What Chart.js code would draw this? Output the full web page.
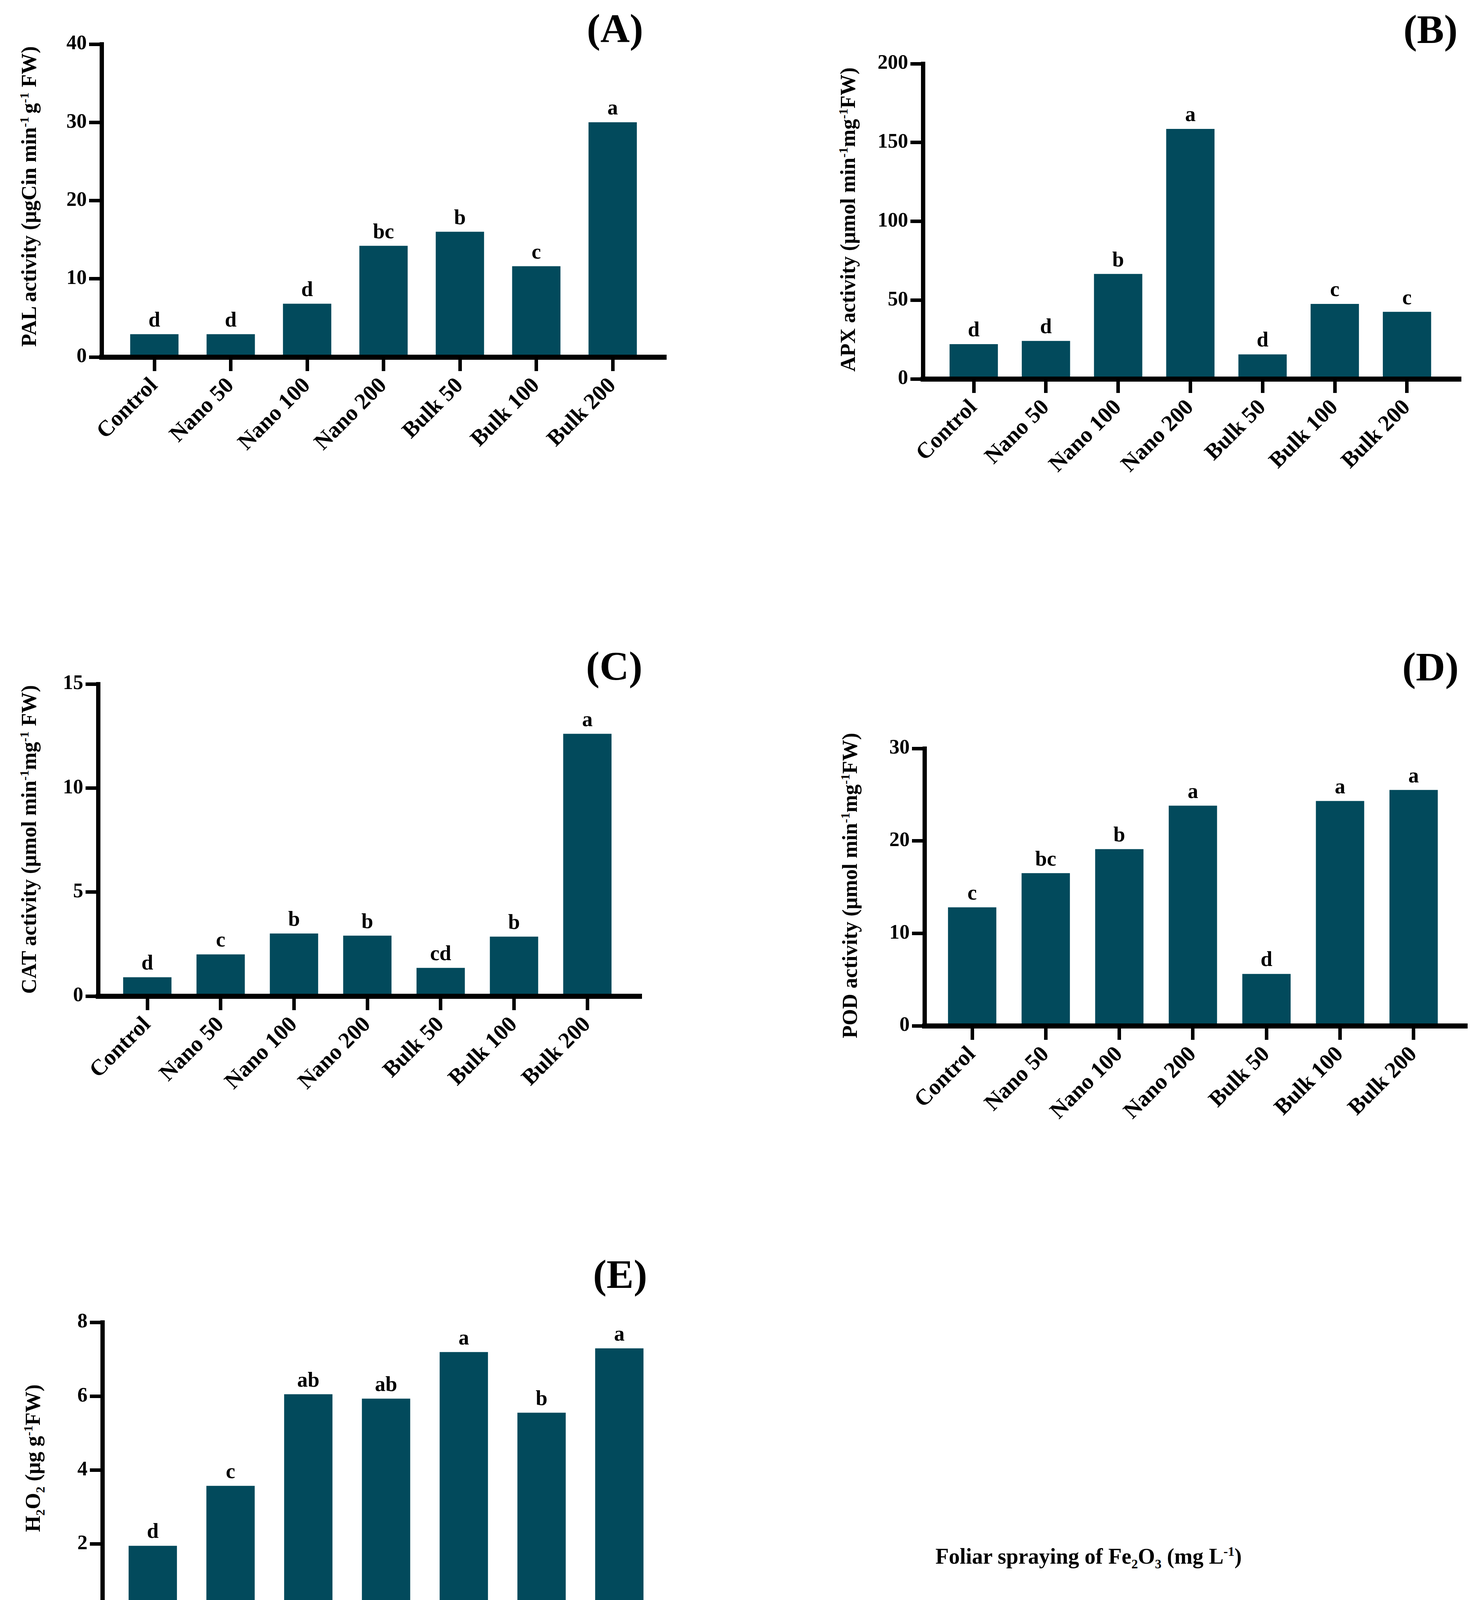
<!DOCTYPE html>
<html>
<head>
<meta charset="utf-8">
<script src="https://cdn.jsdelivr.net/npm/chart.js@4.4.1/dist/chart.umd.min.js"></script>
<style>
html, body { margin: 0; padding: 0; background: #fff; }
body { width: 3780px; height: 4539px; position: relative; overflow: hidden;
       font-family: "Liberation Serif", "Times New Roman", serif; font-weight: bold; color: #000; }
canvas { position: absolute; }
.tag { position: absolute; font-size: 104px; line-height: 1; white-space: nowrap; transform: translate(-50%, -50%); }
.ytitle { position: absolute; font-size: 54px; line-height: 1; white-space: nowrap; transform: translate(-50%, -50%) rotate(-90deg); }
.xtitle { position: absolute; font-size: 56px; line-height: 1; white-space: nowrap; transform: translate(-50%, -50%); }
sup, sub { font-size: 0.6em; line-height: 0; }
</style>
</head>
<body>

<canvas id="cA"></canvas>
<canvas id="cB"></canvas>
<canvas id="cC"></canvas>
<canvas id="cD"></canvas>
<canvas id="cE"></canvas>

<div class="tag" style="left:1574px;top:73px">(A)</div>
<div class="tag" style="left:3661px;top:75px">(B)</div>
<div class="tag" style="left:1572px;top:1705px">(C)</div>
<div class="tag" style="left:3661px;top:1707px">(D)</div>
<div class="tag" style="left:1587px;top:3262px">(E)</div>

<div class="ytitle" style="left:74px;top:503px">PAL activity (μgCin min<sup>-1 </sup>g<sup>-1</sup> FW)</div>
<div class="ytitle" style="left:2170px;top:562px">APX activity (μmol min<sup>-1</sup>mg<sup>-1</sup>FW)</div>
<div class="ytitle" style="left:74px;top:2149px">CAT activity (μmol min<sup>-1</sup>mg<sup>-1</sup> FW)</div>
<div class="ytitle" style="left:2175px;top:2267px">POD activity (μmol min<sup>-1</sup>mg<sup>-1</sup>FW)</div>
<div class="ytitle" style="left:84px;top:3733px">H<sub>2</sub>O<sub>2</sub> (μg g<sup>-1</sup>FW)</div>

<div class="xtitle" style="left:2786px;top:3984px">Foliar spraying of Fe<sub>2</sub>O<sub>3</sub> (mg L<sup>-1</sup>)</div>
<div class="xtitle" style="left:885px;top:4476px">Foliar spraying of Fe<sub>2</sub>O<sub>3</sub> (mg L<sup>-1</sup>)</div>

<script>
/* ─── Data ──────────────────────────────────────────────────────────────── */

const categories = ['Control', 'Nano 50', 'Nano 100', 'Nano 200', 'Bulk 50', 'Bulk 100', 'Bulk 200'];

const palVals    = [2.9, 2.9, 6.8, 14.2, 16.0, 11.6, 30.0];
const palLetters = ['d', 'd', 'd', 'bc', 'b', 'c', 'a'];
const palTicks   = [0, 10, 20, 30, 40];

const apxVals    = [22, 24, 66.5, 158.5, 15.5, 47.5, 42.5];
const apxLetters = ['d', 'd', 'b', 'a', 'd', 'c', 'c'];
const apxTicks   = [0, 50, 100, 150, 200];

const catVals    = [0.9, 2.0, 3.0, 2.9, 1.35, 2.85, 12.6];
const catLetters = ['d', 'c', 'b', 'b', 'cd', 'b', 'a'];
const catTicks   = [0, 5, 10, 15];

const podVals    = [12.8, 16.5, 19.1, 23.8, 5.6, 24.3, 25.5];
const podLetters = ['c', 'bc', 'b', 'a', 'd', 'a', 'a'];
const podTicks   = [0, 10, 20, 30];

const h2o2Vals    = [1.95, 3.57, 6.05, 5.93, 7.19, 5.55, 7.29];
const h2o2Letters = ['d', 'c', 'ab', 'ab', 'a', 'b', 'a'];
const h2o2Ticks   = [0, 2, 4, 6, 8];

/* ─── Style ─────────────────────────────────────────────────────────────── */

const barColor = '#024a5c';
const serif    = '"Liberation Serif", "Times New Roman", serif';
const yW = 130, padTop = 50, padR = 30, xH = 300;

// letters above each bar
const letterPlugin = {
    id: 'barLetters',
    afterDatasetsDraw(chart) {
        const ds = chart.data.datasets[0];
        const ctx = chart.ctx;
        ctx.save();
        ctx.fillStyle = '#000';
        ctx.font = 'bold 54px ' + serif;
        ctx.textAlign = 'center';
        ctx.textBaseline = 'alphabetic';
        chart.getDatasetMeta(0).data.forEach((bar, i) => {
            ctx.fillText(ds.letters[i], bar.x, bar.y - 20);
        });
        ctx.restore();
    }
};

function mkBar(canvasId, vals, letters, yTicks, lay) {
    const cv = document.getElementById(canvasId);
    const w = yW + (lay.rightX - lay.axisX) + padR;
    const h = padTop + (lay.zeroY - lay.topY) + xH;
    cv.width = w; cv.height = h;
    cv.style.width = w + 'px'; cv.style.height = h + 'px';
    cv.style.left = (lay.axisX - yW) + 'px';
    cv.style.top = (lay.topY - padTop) + 'px';

    return new Chart(cv, {
        type: 'bar',
        data: {
            labels: categories,
            datasets: [{
                data: vals.map((v, i) => ({ x: i, y: v })),
                letters,
                backgroundColor: barColor,
                borderWidth: 0,
                barThickness: 123
            }]
        },
        options: {
            responsive: false,
            animation: false,
            devicePixelRatio: 1,
            layout: { padding: { top: padTop, right: padR, left: 0, bottom: 0 } },
            plugins: { legend: { display: false }, tooltip: { enabled: false } },
            scales: {
                x: {
                    type: 'linear',
                    offset: false,
                    min: -(lay.c0 - lay.axisX) / lay.step,
                    max: (lay.rightX - lay.c0) / lay.step,
                    afterBuildTicks: s => { s.ticks = categories.map((_, i) => ({ value: i })); },
                    afterFit: s => { s.height = xH; },
                    ticks: {
                        autoSkip: false, minRotation: 45, maxRotation: 45, padding: 4,
                        color: '#000', font: { family: serif, size: 58, weight: 'bold' },
                        callback: v => categories[v]
                    },
                    grid: { drawOnChartArea: false, offset: false, tickLength: 36, tickWidth: 9, tickColor: '#000' },
                    border: { width: 13, color: '#000', z: 1 }
                },
                y: {
                    min: 0,
                    max: yTicks[yTicks.length - 1],
                    afterBuildTicks: s => { s.ticks = yTicks.map(v => ({ value: v })); },
                    afterFit: s => { s.width = yW; },
                    ticks: { padding: 6, color: '#000', font: { family: serif, size: 52, weight: 'bold' } },
                    grid: { drawOnChartArea: false, tickLength: 32, tickWidth: 9, tickColor: '#000' },
                    border: { width: 11, color: '#000', z: 1 }
                }
            }
        },
        plugins: [letterPlugin]
    });
}

/* ─── Panels ────────────────────────────────────────────────────────────── */

mkBar('cA', palVals,  palLetters,  palTicks,  { axisX: 260,  topY: 113,  zeroY: 914,  rightX: 1705, c0: 395,  step: 195.5 });
mkBar('cB', apxVals,  apxLetters,  apxTicks,  { axisX: 2362, topY: 163,  zeroY: 970,  rightX: 3739, c0: 2492, step: 184.8 });
mkBar('cC', catVals,  catLetters,  catTicks,  { axisX: 251,  topY: 1751, zeroY: 2550, rightX: 1642, c0: 377,  step: 187.7 });
mkBar('cD', podVals,  podLetters,  podTicks,  { axisX: 2366, topY: 1916, zeroY: 2626, rightX: 3755, c0: 2488, step: 188.3 });
mkBar('cE', h2o2Vals, h2o2Letters, h2o2Ticks, { axisX: 262,  topY: 3385, zeroY: 4142, rightX: 1724, c0: 391,  step: 199 });
</script>
</body>
</html>
